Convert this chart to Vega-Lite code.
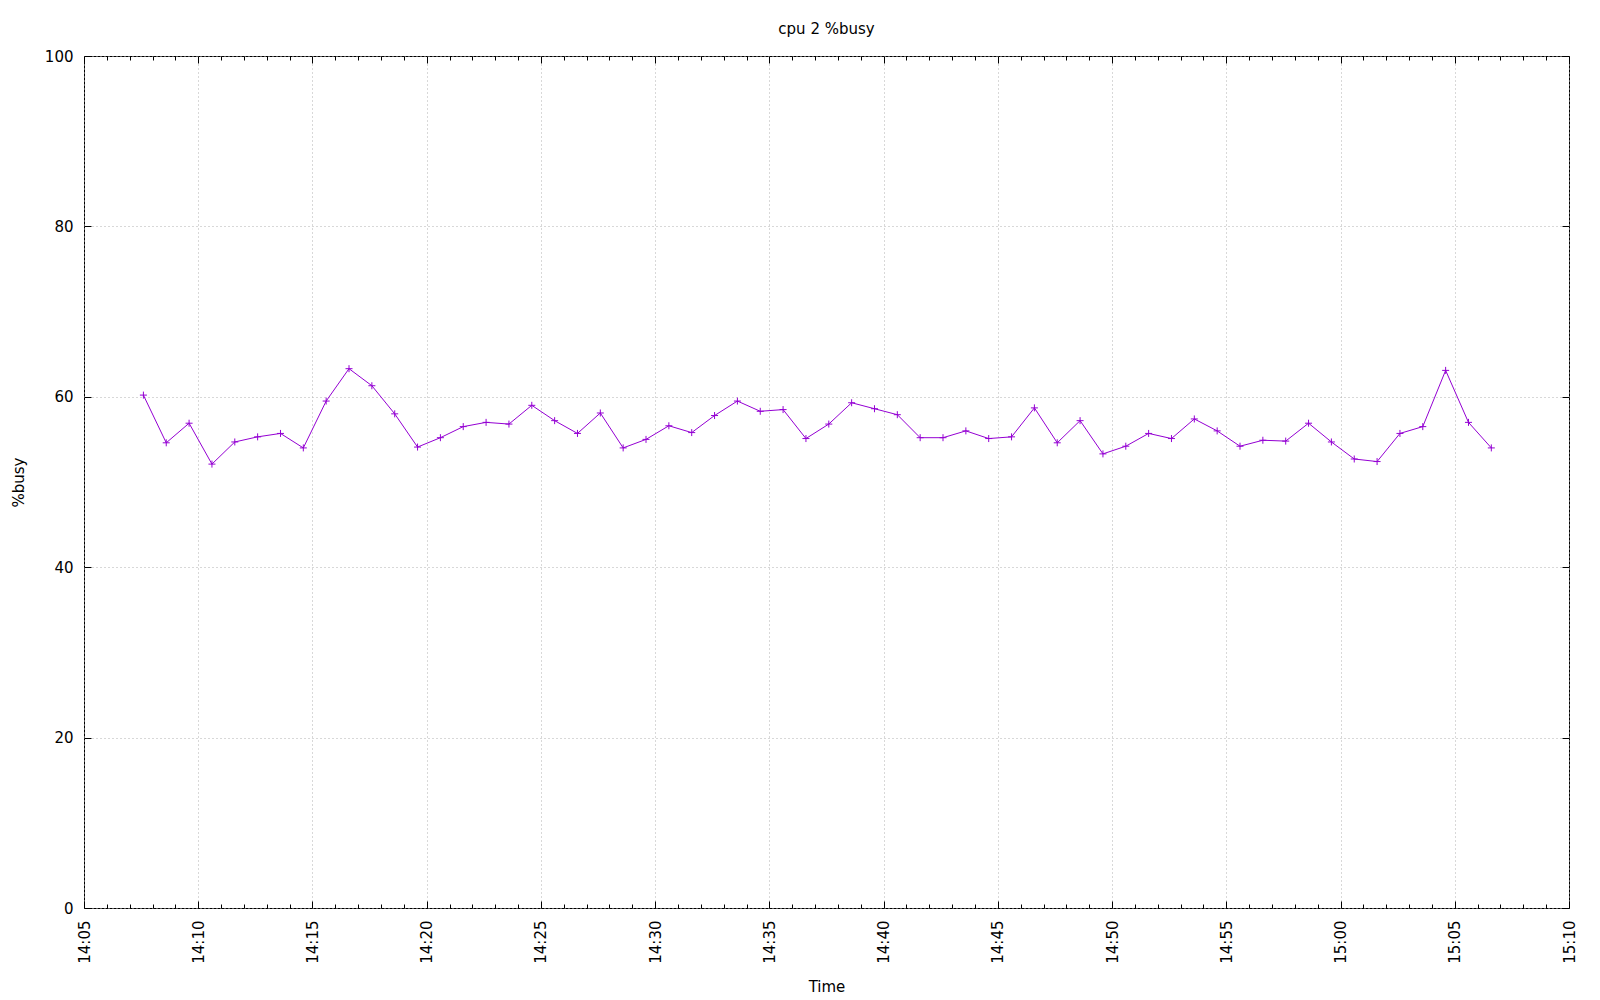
{
  "$schema": "https://vega.github.io/schema/vega-lite/v6.json",
  "width": 1485,
  "height": 852,
  "autosize": {"type": "none"},
  "padding": {"left": 84, "top": 56, "right": 31, "bottom": 92},
  "background": "white",
  "title": {"text": "cpu 2 %busy", "fontSize": 15, "fontWeight": "normal", "font": "DejaVu Sans", "color": "black", "offset": 12, "anchor": "middle"},
  "config": {
    "view": {"stroke": "black", "strokeWidth": 1},
    "axis": {"labelFont": "DejaVu Sans", "titleFont": "DejaVu Sans", "labelFontSize": 15, "titleFontSize": 15, "titleFontWeight": "normal", "labelColor": "black", "titleColor": "black", "domain": false, "tickColor": "black", "tickWidth": 1, "gridColor": "#b0b0b0", "gridDash": [1, 3], "gridWidth": 1}
  },
  "data": {"values": [
    {"time": "2024-01-01T14:07:36Z", "busy": 60.2},
    {"time": "2024-01-01T14:08:36Z", "busy": 54.6},
    {"time": "2024-01-01T14:09:36Z", "busy": 56.9},
    {"time": "2024-01-01T14:10:36Z", "busy": 52.1},
    {"time": "2024-01-01T14:11:36Z", "busy": 54.7},
    {"time": "2024-01-01T14:12:36Z", "busy": 55.3},
    {"time": "2024-01-01T14:13:36Z", "busy": 55.7},
    {"time": "2024-01-01T14:14:36Z", "busy": 54.0},
    {"time": "2024-01-01T14:15:36Z", "busy": 59.5},
    {"time": "2024-01-01T14:16:36Z", "busy": 63.3},
    {"time": "2024-01-01T14:17:36Z", "busy": 61.3},
    {"time": "2024-01-01T14:18:36Z", "busy": 58.0},
    {"time": "2024-01-01T14:19:36Z", "busy": 54.1},
    {"time": "2024-01-01T14:20:36Z", "busy": 55.2},
    {"time": "2024-01-01T14:21:36Z", "busy": 56.5},
    {"time": "2024-01-01T14:22:36Z", "busy": 57.0},
    {"time": "2024-01-01T14:23:36Z", "busy": 56.8},
    {"time": "2024-01-01T14:24:36Z", "busy": 59.0},
    {"time": "2024-01-01T14:25:36Z", "busy": 57.2},
    {"time": "2024-01-01T14:26:36Z", "busy": 55.7},
    {"time": "2024-01-01T14:27:36Z", "busy": 58.1},
    {"time": "2024-01-01T14:28:36Z", "busy": 54.0},
    {"time": "2024-01-01T14:29:36Z", "busy": 55.0},
    {"time": "2024-01-01T14:30:36Z", "busy": 56.6},
    {"time": "2024-01-01T14:31:36Z", "busy": 55.8},
    {"time": "2024-01-01T14:32:36Z", "busy": 57.8},
    {"time": "2024-01-01T14:33:36Z", "busy": 59.5},
    {"time": "2024-01-01T14:34:36Z", "busy": 58.3},
    {"time": "2024-01-01T14:35:36Z", "busy": 58.5},
    {"time": "2024-01-01T14:36:36Z", "busy": 55.1},
    {"time": "2024-01-01T14:37:36Z", "busy": 56.8},
    {"time": "2024-01-01T14:38:36Z", "busy": 59.3},
    {"time": "2024-01-01T14:39:36Z", "busy": 58.6},
    {"time": "2024-01-01T14:40:36Z", "busy": 57.9},
    {"time": "2024-01-01T14:41:36Z", "busy": 55.2},
    {"time": "2024-01-01T14:42:36Z", "busy": 55.2},
    {"time": "2024-01-01T14:43:36Z", "busy": 56.0},
    {"time": "2024-01-01T14:44:36Z", "busy": 55.1},
    {"time": "2024-01-01T14:45:36Z", "busy": 55.3},
    {"time": "2024-01-01T14:46:36Z", "busy": 58.7},
    {"time": "2024-01-01T14:47:36Z", "busy": 54.6},
    {"time": "2024-01-01T14:48:36Z", "busy": 57.2},
    {"time": "2024-01-01T14:49:36Z", "busy": 53.3},
    {"time": "2024-01-01T14:50:36Z", "busy": 54.2},
    {"time": "2024-01-01T14:51:36Z", "busy": 55.7},
    {"time": "2024-01-01T14:52:36Z", "busy": 55.1},
    {"time": "2024-01-01T14:53:36Z", "busy": 57.4},
    {"time": "2024-01-01T14:54:36Z", "busy": 56.0},
    {"time": "2024-01-01T14:55:36Z", "busy": 54.2},
    {"time": "2024-01-01T14:56:36Z", "busy": 54.9},
    {"time": "2024-01-01T14:57:36Z", "busy": 54.8},
    {"time": "2024-01-01T14:58:36Z", "busy": 56.9},
    {"time": "2024-01-01T14:59:36Z", "busy": 54.7},
    {"time": "2024-01-01T15:00:36Z", "busy": 52.7},
    {"time": "2024-01-01T15:01:36Z", "busy": 52.4},
    {"time": "2024-01-01T15:02:36Z", "busy": 55.7},
    {"time": "2024-01-01T15:03:36Z", "busy": 56.5},
    {"time": "2024-01-01T15:04:36Z", "busy": 63.1},
    {"time": "2024-01-01T15:05:36Z", "busy": 57.0},
    {"time": "2024-01-01T15:06:36Z", "busy": 54.0}
  ]},
  "layer": [
    {
      "mark": {"type": "line", "color": "#9400D3", "strokeWidth": 1},
      "encoding": {
        "x": {"field": "time", "type": "temporal",
          "scale": {"type": "utc", "nice": false, "domain": [1704117900000, 1704121800000]},
          "axis": {"orient": "bottom",
            "values": [1704117900000, 1704117960000, 1704118020000, 1704118080000, 1704118140000, 1704118200000, 1704118260000, 1704118320000, 1704118380000, 1704118440000, 1704118500000, 1704118560000, 1704118620000, 1704118680000, 1704118740000, 1704118800000, 1704118860000, 1704118920000, 1704118980000, 1704119040000, 1704119100000, 1704119160000, 1704119220000, 1704119280000, 1704119340000, 1704119400000, 1704119460000, 1704119520000, 1704119580000, 1704119640000, 1704119700000, 1704119760000, 1704119820000, 1704119880000, 1704119940000, 1704120000000, 1704120060000, 1704120120000, 1704120180000, 1704120240000, 1704120300000, 1704120360000, 1704120420000, 1704120480000, 1704120540000, 1704120600000, 1704120660000, 1704120720000, 1704120780000, 1704120840000, 1704120900000, 1704120960000, 1704121020000, 1704121080000, 1704121140000, 1704121200000, 1704121260000, 1704121320000, 1704121380000, 1704121440000, 1704121500000, 1704121560000, 1704121620000, 1704121680000, 1704121740000, 1704121800000],
            "labelExpr": "utcminutes(datum.value) % 5 === 0 ? utcFormat(datum.value, '%H:%M') : ''",
            "labelAngle": 270, "labelAlign": "right", "labelBaseline": "middle", "labelPadding": 19,
            "labelOverlap": false, "labelFlush": false,
            "tickSize": -7,
            "tickDash": {"condition": {"test": "utcminutes(datum.value) % 5 === 0", "value": [7, 0]}, "value": [4, 20]},
            "grid": true,
            "gridOpacity": {"condition": {"test": "utcminutes(datum.value) % 5 === 0", "value": 1}, "value": 0},
            "title": "Time", "titleY": 83.7, "titleBaseline": "alphabetic"}},
        "y": {"field": "busy", "type": "quantitative",
          "scale": {"domain": [0, 100], "nice": false},
          "axis": {"orient": "left", "values": [0, 20, 40, 60, 80, 100], "tickSize": -7, "labelPadding": 18,
            "grid": true, "title": "%busy", "titleX": -60.5, "titleBaseline": "alphabetic"}}
      }
    },
    {
      "mark": {"type": "point", "shape": "M-1,0L1,0M0,-1L0,1", "filled": false, "color": "#9400D3", "strokeWidth": 1, "size": 49, "opacity": 1},
      "encoding": {
        "x": {"field": "time", "type": "temporal",
          "scale": {"type": "utc", "nice": false, "domain": [1704117900000, 1704121800000]},
          "axis": {"orient": "top",
            "values": [1704117900000, 1704117960000, 1704118020000, 1704118080000, 1704118140000, 1704118200000, 1704118260000, 1704118320000, 1704118380000, 1704118440000, 1704118500000, 1704118560000, 1704118620000, 1704118680000, 1704118740000, 1704118800000, 1704118860000, 1704118920000, 1704118980000, 1704119040000, 1704119100000, 1704119160000, 1704119220000, 1704119280000, 1704119340000, 1704119400000, 1704119460000, 1704119520000, 1704119580000, 1704119640000, 1704119700000, 1704119760000, 1704119820000, 1704119880000, 1704119940000, 1704120000000, 1704120060000, 1704120120000, 1704120180000, 1704120240000, 1704120300000, 1704120360000, 1704120420000, 1704120480000, 1704120540000, 1704120600000, 1704120660000, 1704120720000, 1704120780000, 1704120840000, 1704120900000, 1704120960000, 1704121020000, 1704121080000, 1704121140000, 1704121200000, 1704121260000, 1704121320000, 1704121380000, 1704121440000, 1704121500000, 1704121560000, 1704121620000, 1704121680000, 1704121740000, 1704121800000],
            "labels": false, "grid": false, "title": null,
            "tickSize": -7,
            "tickDash": {"condition": {"test": "utcminutes(datum.value) % 5 === 0", "value": [7, 0]}, "value": [4, 20]}}},
        "y": {"field": "busy", "type": "quantitative",
          "scale": {"domain": [0, 100], "nice": false},
          "axis": {"orient": "right", "values": [0, 20, 40, 60, 80, 100], "tickSize": -7, "labels": false, "grid": false, "title": null}}
      }
    }
  ],
  "resolve": {"axis": {"x": "independent", "y": "independent"}}
}
